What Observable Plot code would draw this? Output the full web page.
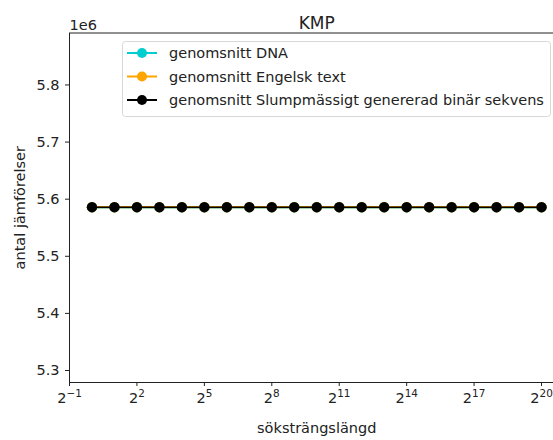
<!DOCTYPE html>
<html>
<head>
<meta charset="utf-8">
<script src="https://cdn.jsdelivr.net/npm/d3@7"></script>
<script src="https://cdn.jsdelivr.net/npm/@observablehq/plot@0.6"></script>
<style>
  html, body { margin: 0; padding: 0; background: #fff; }
  #chart { width: 553px; height: 440px; overflow: hidden; }
</style>
</head>
<body>
<div id="chart"></div>
<script>
// --- data ---
const searchLengths = [1, 2, 4, 8, 16, 32, 64, 128, 256, 512, 1024, 2048, 4096, 8192, 16384, 32768, 65536, 131072, 262144, 524288, 1048576];
const dnaValues     = [5586000, 5586000, 5586000, 5586000, 5586000, 5586000, 5586000, 5586000, 5586000, 5586000, 5586000, 5586000, 5586000, 5586000, 5586000, 5586000, 5586000, 5586000, 5586000, 5586000, 5586000];
const englishValues = [5586000, 5586000, 5586000, 5586000, 5586000, 5586000, 5586000, 5586000, 5586000, 5586000, 5586000, 5586000, 5586000, 5586000, 5586000, 5586000, 5586000, 5586000, 5586000, 5586000, 5586000];
const randomValues  = [5586000, 5586000, 5586000, 5586000, 5586000, 5586000, 5586000, 5586000, 5586000, 5586000, 5586000, 5586000, 5586000, 5586000, 5586000, 5586000, 5586000, 5586000, 5586000, 5586000, 5586000];
const seriesNames   = ["genomsnitt DNA", "genomsnitt Engelsk text", "genomsnitt Slumpmässigt genererad binär sekvens"];
const seriesColors  = ["#00CED1", "#FFA500", "#000000"];
const xTicks        = [0.5, 4, 32, 256, 2048, 16384, 131072, 1048576];
const xTickLabels   = [["2", "−1"], ["2", "2"], ["2", "5"], ["2", "8"], ["2", "11"], ["2", "14"], ["2", "17"], ["2", "20"]];
const yTicks        = [5300000, 5400000, 5500000, 5600000, 5700000, 5800000];

const allSeries = [dnaValues, englishValues, randomValues];
const rows = [];
allSeries.forEach((vals, s) => vals.forEach((v, i) => rows.push({x: searchLengths[i], y: v, s})));

const font = "DejaVu Sans, sans-serif";
const fs = 14.5;
const widths = [2.4, 2.2, 1.6];

const marks = [];
allSeries.forEach((vals, s) => {
  const d = rows.filter(r => r.s === s);
  marks.push(Plot.line(d, {x: "x", y: "y", stroke: seriesColors[s], strokeWidth: widths[s]}));
  marks.push(Plot.dot(d, {x: "x", y: "y", r: 5.2, fill: seriesColors[s], stroke: "none"}));
});

function xLabel(d) {
  const k = xTicks.findIndex(t => Math.abs(Math.log2(t) - Math.log2(d)) < 1e-6);
  return k < 0 ? "" : xTickLabels[k][0] + "^" + xTickLabels[k][1];
}

const chart = Plot.plot({
  width: 553,
  height: 440,
  marginLeft: 69,
  marginRight: -10.5,
  marginTop: 32.5,
  marginBottom: 58,
  style: {fontFamily: font, fontSize: fs + "px", color: "#222", background: "#fff"},
  x: {
    type: "log", base: 2, domain: [0.5, 2097152],
    ticks: xTicks, tickFormat: xLabel,
    tickSize: 4, tickPadding: 6,
    label: "söksträngslängd", labelAnchor: "center", labelOffset: 50, labelArrow: "none"
  },
  y: {
    domain: [5279000, 5891000],
    ticks: yTicks, tickFormat: d => (d / 1e6).toFixed(1),
    tickSize: 4, tickPadding: 6,
    label: "antal jämförelser", labelAnchor: "center", labelOffset: 55, labelArrow: "none"
  },
  marks: [
    ...marks,
    Plot.frame({stroke: "#222", strokeWidth: 1}),
    Plot.text(["KMP"], {frameAnchor: "top", dy: -16, fontSize: 17, fill: "#222"}),
    Plot.text(["1e6"], {frameAnchor: "top-left", dy: -13, dx: 0, textAnchor: "start", fontSize: fs, fill: "#222"})
  ]
});

document.getElementById("chart").appendChild(chart);

// strip any label arrows and superscript exponents on x tick labels
d3.select(chart).selectAll("g[aria-label$='label'] text").each(function() {
  const t = d3.select(this);
  const s = t.text();
  if (/[→↑]/.test(s)) t.text(s.replace(/\s*[→↑]\s*/g, ""));
});
d3.select(chart).selectAll("g[aria-label='x-axis tick label'] text").each(function() {
  const t = d3.select(this);
  const parts = t.text().split("^");
  if (parts.length === 2) {
    t.text(null);
    t.append("tspan").text(parts[0]);
    t.append("tspan").attr("dy", "-0.55em").attr("font-size", "0.72em").text(parts[1]);
  }
});

// legend inside the axes
const svg = d3.select(chart);
const lg = svg.append("g").attr("font-family", font).attr("font-size", fs).attr("text-anchor", "start");
lg.append("rect").attr("x", 122.5).attr("y", 41.5).attr("width", 428).attr("height", 75)
  .attr("rx", 3).attr("fill", "rgba(255,255,255,0.8)").attr("stroke", "#d8d8d8");
seriesNames.forEach((name, i) => {
  const cy = 53 + i * 23.5;
  lg.append("line").attr("x1", 127).attr("x2", 157).attr("y1", cy).attr("y2", cy)
    .attr("stroke", seriesColors[i]).attr("stroke-width", 2);
  lg.append("circle").attr("cx", 142).attr("cy", cy).attr("r", 5).attr("fill", seriesColors[i]);
  lg.append("text").attr("x", 169).attr("y", cy).attr("dy", "0.35em").attr("fill", "#222").text(name);
});
</script>
</body>
</html>
